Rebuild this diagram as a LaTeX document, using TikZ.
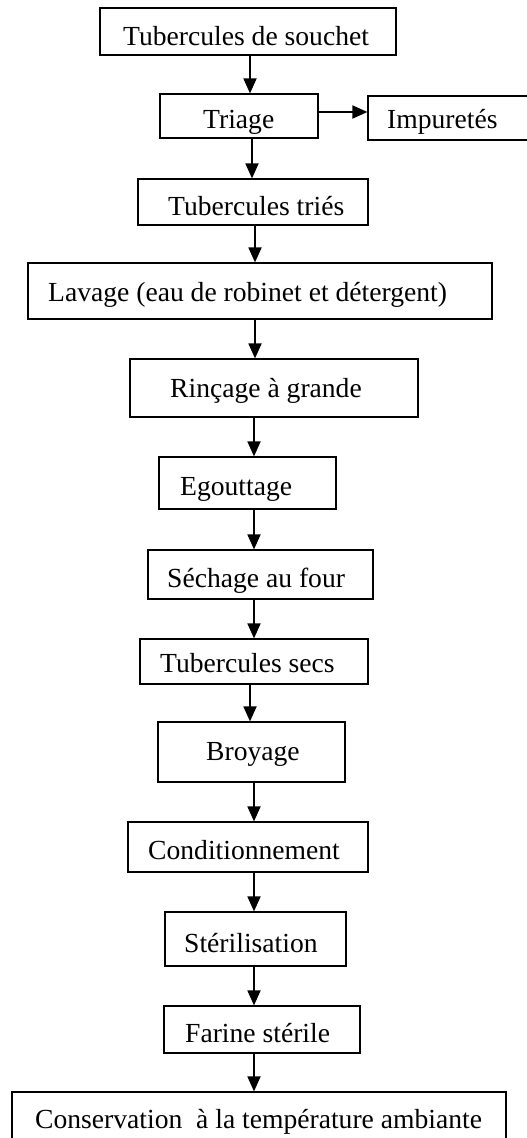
\documentclass[tikz,border=0pt]{standalone}
\usepackage{fontspec}
\setmainfont{Liberation Serif}
\usetikzlibrary{arrows.meta}
\tikzset{
  box/.style={draw=black, line width=1.2pt, rectangle, inner sep=0pt},
  txt/.style={anchor=base west, inner sep=0pt, font=\fontsize{27.6}{30}\selectfont},
  arr/.style={draw=black, line width=1.8pt, -{Triangle[length=15pt,width=13pt]}},
}
\begin{document}
\begin{tikzpicture}[x=1pt,y=-1pt]
\path[use as bounding box, fill=white] (0,0) rectangle (527,1138);
% boxes
\node[box, minimum width=296pt, minimum height=47pt] (b1) at (248,31.5) {};
\node[box, minimum width=158pt, minimum height=44pt] (b2) at (239,116) {};
\node[box, minimum width=172pt, minimum height=44pt] (b3) at (454,118) {};
\node[box, minimum width=230pt, minimum height=46pt] (b4) at (253,202) {};
\node[box, minimum width=464pt, minimum height=56pt] (b5) at (260,291) {};
\node[box, minimum width=288pt, minimum height=58pt] (b6) at (274,388) {};
\node[box, minimum width=177pt, minimum height=52pt] (b7) at (247.5,483) {};
\node[box, minimum width=225pt, minimum height=49pt] (b8) at (260.5,574.5) {};
\node[box, minimum width=228pt, minimum height=45pt] (b9) at (254,661.5) {};
\node[box, minimum width=187pt, minimum height=60pt] (b10) at (251.5,752) {};
\node[box, minimum width=240pt, minimum height=50pt] (b11) at (248,847) {};
\node[box, minimum width=181pt, minimum height=54pt] (b12) at (255.5,939) {};
\node[box, minimum width=196pt, minimum height=47pt] (b13) at (262,1029.5) {};
\node[box, minimum width=494pt, minimum height=68pt] (b14) at (259,1126) {};
% texts
\node[txt] (t1) at (123,45) {Tubercules de souchet};
\node[txt] (t2) at (203,128) {Triage};
\node[txt] (t3) at (387,128) {Impuretés};
\node[txt] (t4) at (168,215) {Tubercules triés};
\node[txt] (t5) at (48,301) {Lavage (eau de robinet et détergent)};
\node[txt] (t6) at (170,397) {Rinçage à grande};
\node[txt] (t7) at (180,495) {Egouttage};
\node[txt] (t8) at (167,587) {Séchage au four};
\node[txt] (t9) at (160,672) {Tubercules secs};
\node[txt] (t10) at (206,760) {Broyage};
\node[txt] (t11) at (148,859) {Conditionnement};
\node[txt] (t12) at (184,952) {Stérilisation};
\node[txt] (t13) at (185,1042) {Farine stérile};
\node[txt] (t14) at (35,1128) {Conservation\ \ à la température ambiante};
% arrow columns
\coordinate (c250) at (250,0);
\coordinate (c252) at (252,0);
\coordinate (c255) at (255,0);
\coordinate (c254) at (254,0);
\coordinate (r112) at (0,112);
% arrows
\draw[arr] (b1.south -| c250) -- (b2.north -| c250);
\draw[arr] (b2.east |- r112) -- (b3.west |- r112);
\draw[arr] (b2.south -| c252) -- (b4.north -| c252);
\draw[arr] (b4.south -| c255) -- (b5.north -| c255);
\draw[arr] (b5.south -| c255) -- (b6.north -| c255);
\draw[arr] (b6.south -| c254) -- (b7.north -| c254);
\draw[arr] (b7.south -| c254) -- (b8.north -| c254);
\draw[arr] (b8.south -| c254) -- (b9.north -| c254);
\draw[arr] (b9.south -| c250) -- (b10.north -| c250);
\draw[arr] (b10.south -| c254) -- (b11.north -| c254);
\draw[arr] (b11.south -| c254) -- (b12.north -| c254);
\draw[arr] (b12.south -| c254) -- (b13.north -| c254);
\draw[arr] (b13.south -| c254) -- (b14.north -| c254);
\end{tikzpicture}
\end{document}
